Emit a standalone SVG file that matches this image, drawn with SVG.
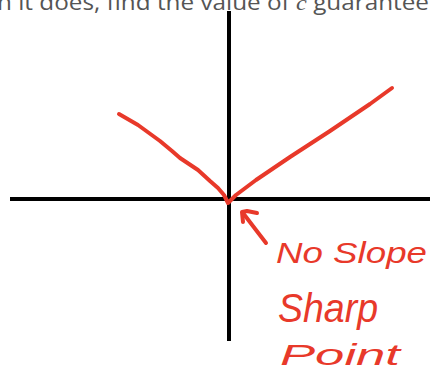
<svg xmlns="http://www.w3.org/2000/svg" width="430" height="371" viewBox="0 0 430 371">
<style>
.axis{stroke:#000;stroke-width:4;fill:none}
.ink{stroke:#e8392a;stroke-width:4;fill:none;stroke-linecap:round;stroke-linejoin:round}
.hand{fill:#e8392a;font-family:"Liberation Sans",sans-serif;font-style:italic}
.top{fill:#555;font-family:"Open Sans","Liberation Sans",sans-serif;font-size:21px}
</style>
<rect width="430" height="371" fill="#fff"/>
<text class="top" x="-3" y="10" textLength="432" lengthAdjust="spacingAndGlyphs">n it does, find the value of <tspan font-style="italic" font-family="Liberation Serif,serif">c</tspan> guarantee</text>
<g id="axes">
<line class="axis" x1="229" y1="11" x2="229" y2="341"/>
<line class="axis" x1="10" y1="199" x2="430" y2="199"/>
</g>
<g id="curve">
<path class="ink" d="M119,114 L138,125 L160,141 L172,151 L180,158 L198,170 L210,181 L218,188 L224,195 L228,203 L236,195 L256,180 L290,157 L330,131 L370,104 L392,88"/>
</g>
<g id="connectors">
<path class="ink" d="M266,243 L256,230 L243,213"/>
<path class="ink" d="M243,222 L242,212 L247,211 L257,213"/>
</g>
<g id="labels">
<text class="hand" x="276" y="263" font-size="29" textLength="151" lengthAdjust="spacingAndGlyphs">No Slope</text>
<text class="hand" x="278" y="322" font-size="40" textLength="100" lengthAdjust="spacingAndGlyphs">Sharp</text>
<text class="hand" x="280" y="365" font-size="30" textLength="120" lengthAdjust="spacingAndGlyphs">Point</text>
</g>
</svg>
